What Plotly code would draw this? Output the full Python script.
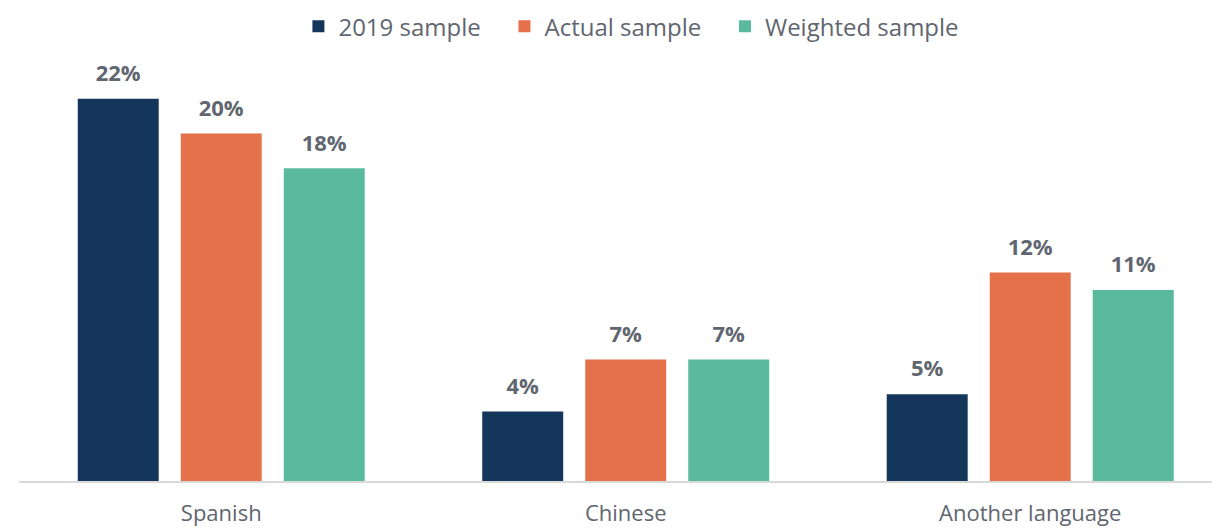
import plotly.graph_objects as go

categories = ["Spanish", "Chinese", "Another language"]
series_names = ["2019 sample", "Actual sample", "Weighted sample"]
sample_2019 = [22, 4, 5]
sample_actual = [20, 7, 12]
sample_weighted = [18, 7, 11]
colors = ["#14365A", "#E4714A", "#5ABA9E"]

text_grey = "#5F6670"
font_family = "Open Sans, Liberation Sans, sans-serif"
pad = "\u00a0" * 3  # extra room between legend entries

fig = go.Figure()
all_vals = [sample_2019, sample_actual, sample_weighted]
for i, (name, vals, col) in enumerate(zip(series_names, all_vals, colors)):
    fig.add_trace(go.Bar(
        x=categories, y=vals,
        name=name + (pad if i < len(series_names) - 1 else ""),
        marker=dict(color=col, line=dict(width=0)),
        # small base font + blank line under the label lifts it off the bar top
        text=[f"<span style='font-size:22px'>{v}%</span><br> " for v in vals],
        textposition="outside",
        textfont=dict(size=9, color=text_grey, family=font_family, weight="bold"),
        cliponaxis=False,
    ))

fig.update_layout(
    width=1220, height=529,
    margin=dict(l=11, r=0, t=37, b=56, autoexpand=False),
    barmode="group",
    bargap=0.236,
    bargroupgap=0.214,
    plot_bgcolor="white",
    paper_bgcolor="white",
    font=dict(family=font_family, color=text_grey),
    legend=dict(
        orientation="h", xref="container", x=0.511, xanchor="center",
        y=1.042, yanchor="middle",
        font=dict(size=24, color=text_grey), itemwidth=30,
        traceorder="normal",
    ),
    xaxis=dict(
        showline=True, linecolor="#D9D9D9", linewidth=2,
        tickfont=dict(size=22, color=text_grey), ticks="",
        ticklabelstandoff=12,
        range=[-0.5, 2.489],
    ),
    yaxis=dict(visible=False, range=[0, 25.1], showgrid=False),
)

fig.write_html("out.html")
